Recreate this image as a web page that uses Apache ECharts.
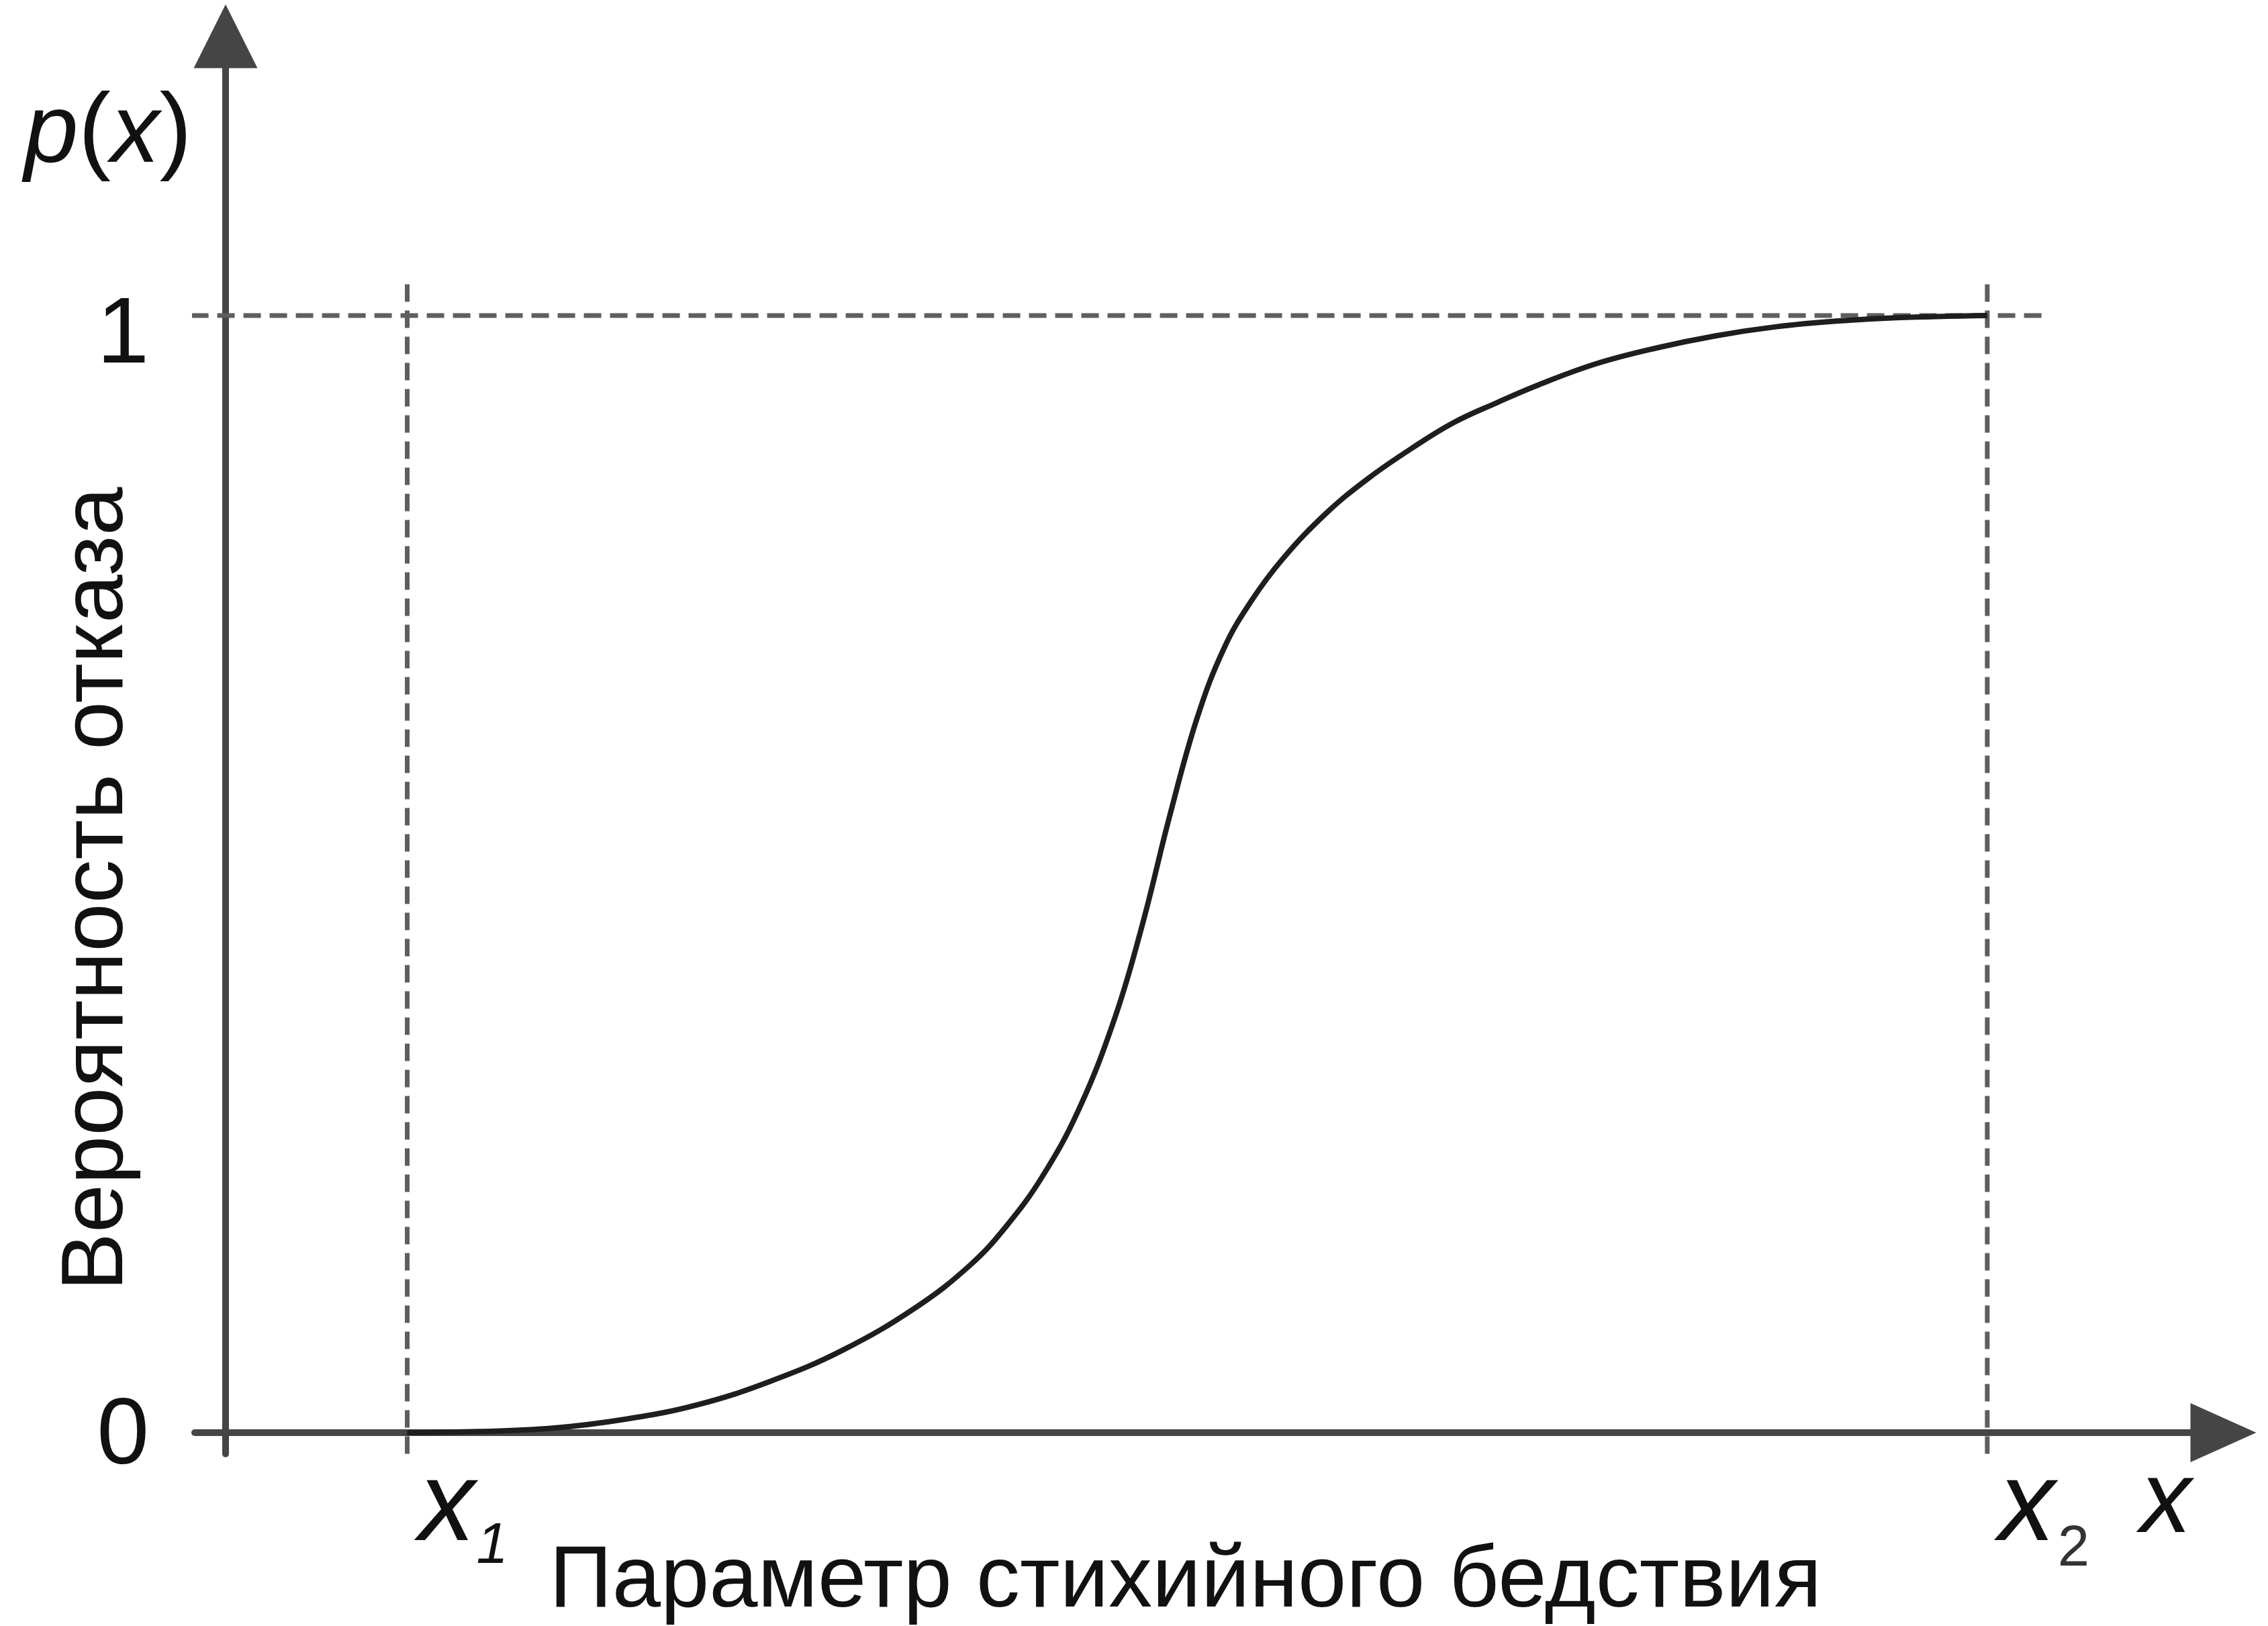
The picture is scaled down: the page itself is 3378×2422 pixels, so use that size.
<!DOCTYPE html>
<html>
<head>
<meta charset="utf-8">
<script src="https://cdn.jsdelivr.net/npm/echarts@6/dist/echarts.min.js"></script>
<style>
  html, body { margin: 0; padding: 0; background: #fff; }
  #chart { width: 3378px; height: 2422px; }
</style>
</head>
<body>
<div id="chart"></div>
<script>
// x in arbitrary units of the disaster parameter, p in [0, 1]
const curveX = [10, 14, 18, 22, 26, 30, 34, 38, 41, 43, 45, 47, 49, 50.5, 52, 53.5, 55, 56.5, 58.2, 60.6, 62.9, 65.3, 67.6, 70, 72.3, 75.5, 78.8, 82.1, 85.4, 88.7, 92, 97];
const curveP = [0, 0.001, 0.004, 0.012, 0.025, 0.046, 0.074, 0.112, 0.150, 0.185, 0.230, 0.290, 0.373, 0.456, 0.553, 0.640, 0.703, 0.745, 0.782, 0.823, 0.854, 0.881, 0.904, 0.922, 0.938, 0.957, 0.971, 0.982, 0.990, 0.995, 0.998, 1];

const x1 = 10;
const x2 = 97;
const xLabelEnd = 104.8;           // where the plain "x" sits under the arrow
const xTicks = [x1, x2, xLabelEnd];
const xTickLabels = ['{v|x}{s|1}', '{v|x}{t|2}', '{e|x}'];

const pTicks = [0, 1];
const pTickLabels = ['{z|0}', '{o|1}'];

// guide lines (dashed)
const levelLine = [[-1.9, 1], [100, 1]];
const x1Line = [[x1, -0.019], [x1, 1.033]];
const x2Line = [[x2, -0.019], [x2, 1.033]];

const FONT = "'Liberation Sans', Arial, sans-serif";
const AXIS_COLOR = '#454545';
const DASH_COLOR = '#5e5e5e';

const chart = echarts.init(document.getElementById('chart'));

const dashed = (name, data) => ({
  name: name,
  type: 'line',
  data: data,
  showSymbol: false,
  silent: true,
  z: 1,
  lineStyle: { color: DASH_COLOR, width: 7, type: [26, 13] }
});

const option = {
  animation: false,
  backgroundColor: '#fff',
  title: [{
    text: '{i|p}{n|(}{i|x}{n|)}',
    left: 36,
    top: 128,
    padding: 0,
    textStyle: {
      fontWeight: 'normal',
      rich: {
        i: { fontFamily: FONT, fontStyle: 'italic', fontWeight: 'normal', fontSize: 145, color: '#111' },
        n: { fontFamily: FONT, fontWeight: 'normal', fontSize: 145, color: '#111' }
      }
    }
  }],
  grid: {
    left: 290,
    right: 66.5,
    top: 54,
    bottom: 256.4,
    outerBoundsMode: 'none',
    containLabel: false
  },
  xAxis: {
    type: 'value',
    min: -1.7,
    max: 110,
    name: 'Параметр стихийного бедствия',
    nameLocation: 'middle',
    nameGap: 127,
    nameMoveOverlap: false,
    nameTextStyle: {
      fontFamily: FONT, fontSize: 130, color: '#111',
      padding: [0, 70, 0, 0]
    },
    axisLine: {
      onZero: true,
      symbol: ['none', 'triangle'],
      symbolSize: [88, 98],
      lineStyle: { color: AXIS_COLOR, width: 10 }
    },
    axisTick: { show: false },
    splitLine: { show: false },
    axisLabel: {
      customValues: xTicks,
      formatter: (v) => xTickLabels[xTicks.indexOf(v)],
      align: 'left',
      margin: -2,
      padding: [0, 0, 0, 17],
      rich: {
        v: { fontFamily: FONT, fontStyle: 'italic', fontSize: 168, color: '#111', verticalAlign: 'top' },
        e: { fontFamily: FONT, fontStyle: 'italic', fontSize: 152, color: '#111', verticalAlign: 'top' },
        s: { fontFamily: FONT, fontStyle: 'italic', fontSize: 85, color: '#111', verticalAlign: 'top', padding: [98, 0, 0, 2] },
        t: { fontFamily: FONT, fontSize: 85, color: '#333', verticalAlign: 'top', padding: [102, 0, 0, 4] }
      }
    }
  },
  yAxis: {
    type: 'value',
    min: -0.019,
    max: 1.25,
    name: 'Вероятность отказа',
    nameLocation: 'middle',
    nameRotate: 90,
    nameGap: 79,
    nameMoveOverlap: false,
    nameTextStyle: {
      fontFamily: FONT, fontSize: 130, color: '#111',
      padding: [0, 429, 0, 0]
    },
    axisLine: {
      onZero: true,
      symbol: ['none', 'triangle'],
      symbolSize: [95, 95],
      lineStyle: { color: AXIS_COLOR, width: 10 }
    },
    axisTick: { show: false },
    splitLine: { show: false },
    axisLabel: {
      customValues: pTicks,
      formatter: (v) => pTickLabels[pTicks.indexOf(v)],
      margin: 68,
      rich: {
        z: { fontFamily: FONT, fontSize: 140, color: '#111', padding: [15, 0, 0, 0] },
        o: { fontFamily: FONT, fontSize: 140, color: '#111', padding: [63, 0, 0, 0] }
      }
    }
  },
  series: [
    dashed('level', levelLine),
    dashed('x1', x1Line),
    dashed('x2', x2Line),
    {
      name: 'p(x)',
      type: 'line',
      data: curveX.map((x, i) => [x, curveP[i]]),
      showSymbol: false,
      smooth: 0.4,
      z: 3,
      lineStyle: { color: '#1e1e1e', width: 8 }
    }
  ]
};

chart.setOption(option);
</script>
</body>
</html>
